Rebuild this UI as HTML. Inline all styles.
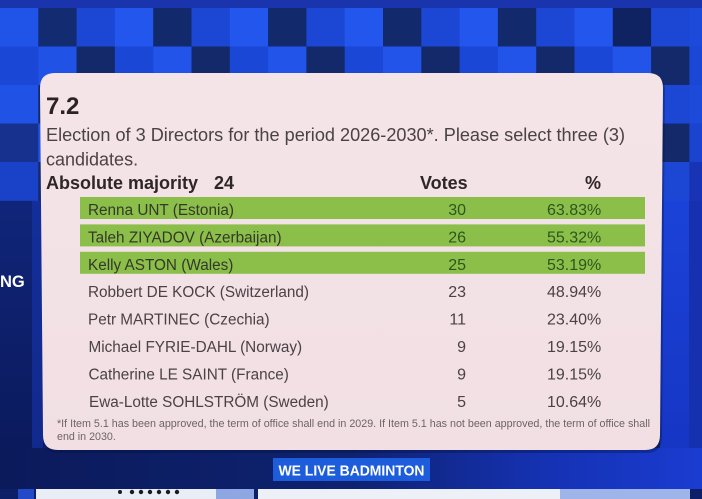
<!DOCTYPE html>
<html><head><meta charset="utf-8"><style>
html,body{margin:0;padding:0;width:702px;height:499px;overflow:hidden;background:#0f2470}
svg{display:block}
text{font-family:"Liberation Sans",Arial,sans-serif}
.n{font-family:"DejaVu Sans","Liberation Sans",sans-serif}
</style></head><body>
<svg width="702" height="499" viewBox="0 0 702 499" xmlns="http://www.w3.org/2000/svg">
<defs>
<linearGradient id="bot" x1="0" x2="1" y1="0" y2="0">
<stop offset="0" stop-color="#0b1a5a"/><stop offset="0.5" stop-color="#0e2270"/><stop offset="0.78" stop-color="#1532b4"/><stop offset="1" stop-color="#1a3cd0"/>
</linearGradient>
<linearGradient id="lft" x1="0" x2="0" y1="0" y2="1">
<stop offset="0" stop-color="#10257a"/><stop offset="1" stop-color="#0b1a5c"/>
</linearGradient>
<linearGradient id="rgt" x1="0" x2="0" y1="0" y2="1">
<stop offset="0" stop-color="#1b42d8"/><stop offset="1" stop-color="#1636c4"/>
</linearGradient>
<linearGradient id="pnl" x1="0" x2="0" y1="0" y2="1">
<stop offset="0" stop-color="#f4e4e8"/><stop offset="1" stop-color="#f1dfe3"/>
</linearGradient>
</defs>

<rect x="0" y="0" width="702" height="499" fill="#0f2470"/>
<rect x="0" y="0" width="702" height="8" fill="#1934ad"/>

<rect x="0" y="200" width="44" height="252" fill="url(#lft)"/>
<rect x="32" y="200" width="11" height="252" fill="#1836b4" opacity="0.55"/>
<rect x="660" y="200" width="42" height="252" fill="url(#rgt)"/>
<rect x="689" y="200" width="13" height="252" fill="#1631b0"/>
<rect x="0" y="448" width="702" height="42" fill="url(#bot)"/>

<g>
<rect x="0" y="8" width="38.6" height="38.8" fill="#2053e8"/>
<rect x="38.3" y="8" width="38.6" height="38.8" fill="#132b70"/>
<rect x="76.6" y="8" width="38.6" height="38.8" fill="#1c47d4"/>
<rect x="114.9" y="8" width="38.6" height="38.8" fill="#2256ec"/>
<rect x="153.2" y="8" width="38.6" height="38.8" fill="#12296c"/>
<rect x="191.5" y="8" width="38.6" height="38.8" fill="#1c47d4"/>
<rect x="229.8" y="8" width="38.6" height="38.8" fill="#2256ec"/>
<rect x="268.1" y="8" width="38.6" height="38.8" fill="#12296c"/>
<rect x="306.4" y="8" width="38.6" height="38.8" fill="#1c47d4"/>
<rect x="344.7" y="8" width="38.6" height="38.8" fill="#2256ec"/>
<rect x="383" y="8" width="38.6" height="38.8" fill="#12296c"/>
<rect x="421.3" y="8" width="38.6" height="38.8" fill="#1c47d4"/>
<rect x="459.6" y="8" width="38.6" height="38.8" fill="#2256ec"/>
<rect x="497.9" y="8" width="38.6" height="38.8" fill="#12296c"/>
<rect x="536.2" y="8" width="38.6" height="38.8" fill="#1c47d4"/>
<rect x="574.5" y="8" width="38.6" height="38.8" fill="#2256ec"/>
<rect x="612.8" y="8" width="38.6" height="38.8" fill="#0f2262"/>
<rect x="651.1" y="8" width="38.6" height="38.8" fill="#1c47d4"/>
<rect x="689.4" y="8" width="13" height="38.8" fill="#1d4ad8"/>
</g>
<g>
<rect x="0" y="46.5" width="38.6" height="38.8" fill="#1b47d6"/>
<rect x="38.3" y="46.5" width="38.6" height="38.8" fill="#2052e6"/>
<rect x="76.6" y="46.5" width="38.6" height="38.8" fill="#13296a"/>
<rect x="114.9" y="46.5" width="38.6" height="38.8" fill="#1b47d6"/>
<rect x="153.2" y="46.5" width="38.6" height="38.8" fill="#2254ea"/>
<rect x="191.5" y="46.5" width="38.6" height="38.8" fill="#13296a"/>
<rect x="229.8" y="46.5" width="38.6" height="38.8" fill="#1b47d6"/>
<rect x="268.1" y="46.5" width="38.6" height="38.8" fill="#2254ea"/>
<rect x="306.4" y="46.5" width="38.6" height="38.8" fill="#13296a"/>
<rect x="344.7" y="46.5" width="38.6" height="38.8" fill="#1b47d6"/>
<rect x="383" y="46.5" width="38.6" height="38.8" fill="#2254ea"/>
<rect x="421.3" y="46.5" width="38.6" height="38.8" fill="#13296a"/>
<rect x="459.6" y="46.5" width="38.6" height="38.8" fill="#1b47d6"/>
<rect x="497.9" y="46.5" width="38.6" height="38.8" fill="#2254ea"/>
<rect x="536.2" y="46.5" width="38.6" height="38.8" fill="#13296a"/>
<rect x="574.5" y="46.5" width="38.6" height="38.8" fill="#1b47d6"/>
<rect x="612.8" y="46.5" width="38.6" height="38.8" fill="#2254ea"/>
<rect x="651.1" y="46.5" width="38.6" height="38.8" fill="#13296a"/>
<rect x="689.4" y="46.5" width="13" height="38.8" fill="#1b47d6"/>
</g>
<g>
<rect x="0" y="85" width="38.6" height="38.8" fill="#2052e6"/>
<rect x="38.3" y="85" width="10" height="38.8" fill="#13296a"/>
<rect x="0" y="123.5" width="38.6" height="38.8" fill="#17328e"/>
<rect x="38.3" y="123.5" width="10" height="38.8" fill="#2052e6"/>
<rect x="0" y="162" width="38.6" height="38.8" fill="#1a42c8"/>
<rect x="38.3" y="162" width="10" height="38.8" fill="#13296a"/>

<rect x="651.1" y="85" width="38.6" height="38.8" fill="#1c47d4"/>
<rect x="689.4" y="85" width="13" height="38.8" fill="#1d4ad8"/>
<rect x="651.1" y="123.5" width="38.6" height="38.8" fill="#13296a"/>
<rect x="689.4" y="123.5" width="13" height="38.8" fill="#1a44d0"/>
<rect x="651.1" y="162" width="38.6" height="38.8" fill="#1c47d4"/>
<rect x="689.4" y="162" width="13" height="38.8" fill="#1833b4"/>
</g>

<text x="0" y="287" font-size="16.5" font-weight="bold" fill="#ffffff">NG</text>

<path d="M56,75 L649,75 Q665,75 665,91 L662,437 Q662,453 646,453 L59,453 Q43,453 43,437 L40,91 Q40,75 56,75 Z" fill="#06103a" opacity="0.35"/>
<path d="M55,73 L648,73 Q663,73 663,88 L660,435 Q660,450 645,450 L58,450 Q43,450 43,435 L40,88 Q40,73 55,73 Z" fill="url(#pnl)"/>

<text x="46" y="114" font-size="24" font-weight="bold" fill="#2a2226">7.2</text>
<text x="46" y="141" font-size="18" fill="#4a4246" textLength="579" lengthAdjust="spacingAndGlyphs">Election of 3 Directors for the period 2026-2030*. Please select three (3)</text>
<text x="46" y="165.5" font-size="18" fill="#4a4246">candidates.</text>
<text x="46" y="189" font-size="18" font-weight="bold" fill="#2e2629">Absolute majority</text>
<text x="214" y="189" font-size="18" font-weight="bold" fill="#2e2629">24</text>
<text x="420" y="189" font-size="18" font-weight="bold" fill="#2e2629">Votes</text>
<text x="585" y="189" font-size="18" font-weight="bold" fill="#2e2629">%</text>

<rect x="80" y="197" width="565" height="22" fill="#8cbe4a"/>
<rect x="80" y="224.4" width="565" height="22" fill="#8cbe4a"/>
<rect x="80" y="251.8" width="565" height="22" fill="#8cbe4a"/>

<g font-size="15.3">
<text x="88" y="215" fill="#33392a">Renna UNT (Estonia)</text>
<text x="88" y="242.4" fill="#33392a">Taleh ZIYADOV (Azerbaijan)</text>
<text x="88" y="269.8" fill="#33392a">Kelly ASTON (Wales)</text>
<text x="88" y="297.2" fill="#4a4246">Robbert DE KOCK (Switzerland)</text>
<text x="88" y="324.6" fill="#4a4246">Petr MARTINEC (Czechia)</text>
<text x="88.5" y="352" fill="#4a4246">Michael FYRIE-DAHL (Norway)</text>
<text x="88.5" y="379.4" fill="#4a4246">Catherine LE SAINT (France)</text>
<text x="89" y="406.8" fill="#4a4246">Ewa-Lotte SOHLSTRÖM (Sweden)</text>
</g>
<g class="n" font-size="16">
<text x="466" y="215" text-anchor="end" fill="#2d561d">30</text>
<text x="466" y="242.4" text-anchor="end" fill="#2d561d">26</text>
<text x="466" y="269.8" text-anchor="end" fill="#2d561d">25</text>
<text x="466" y="297.2" text-anchor="end" fill="#4a4246">23</text>
<text x="466" y="324.6" text-anchor="end" fill="#4a4246">11</text>
<text x="466" y="352" text-anchor="end" fill="#4a4246">9</text>
<text x="466" y="379.4" text-anchor="end" fill="#4a4246">9</text>
<text x="466" y="406.8" text-anchor="end" fill="#4a4246">5</text>
<text x="547" y="215" fill="#2d561d">63.83%</text>
<text x="547" y="242.4" fill="#2d561d">55.32%</text>
<text x="547" y="269.8" fill="#2d561d">53.19%</text>
<text x="547" y="297.2" fill="#4a4246">48.94%</text>
<text x="547" y="324.6" fill="#4a4246">23.40%</text>
<text x="547" y="352" fill="#4a4246">19.15%</text>
<text x="547" y="379.4" fill="#4a4246">19.15%</text>
<text x="547" y="406.8" fill="#4a4246">10.64%</text>
</g>

<text x="57" y="427" font-size="10.7" fill="#6d6367" textLength="593" lengthAdjust="spacingAndGlyphs">*If Item 5.1 has been approved, the term of office shall end in 2029. If Item 5.1 has not been approved, the term of office shall</text>
<text x="57" y="440" font-size="10.7" fill="#6d6367">end in 2030.</text>

<rect x="273" y="458" width="157" height="23" fill="#1d5ddc"/>
<text x="278.5" y="475.5" font-size="15" font-weight="bold" fill="#ffffff" textLength="146" lengthAdjust="spacingAndGlyphs">WE LIVE BADMINTON</text>

<rect x="0" y="489" width="702" height="10" fill="#0d1f66"/>
<rect x="18" y="489" width="16" height="10" fill="#2449c8"/>
<rect x="36" y="489" width="180" height="10" fill="#e9edf6"/>
<rect x="216" y="489" width="38" height="10" fill="#8ea6e2"/>
<rect x="258" y="489" width="302" height="10" fill="#eef0f7"/>
<rect x="560" y="489" width="130" height="10" fill="#9fb5ea"/>
<g fill="#1a1a22">
<circle cx="120" cy="492" r="2"/>
<circle cx="132" cy="492" r="2.2"/>
<circle cx="141" cy="492" r="2.2"/>
<circle cx="150" cy="492" r="2.2"/>
<circle cx="159" cy="492" r="2.2"/>
<circle cx="168" cy="492" r="2.2"/>
<circle cx="177" cy="492" r="2.2"/>
</g>
</svg>
</body></html>
